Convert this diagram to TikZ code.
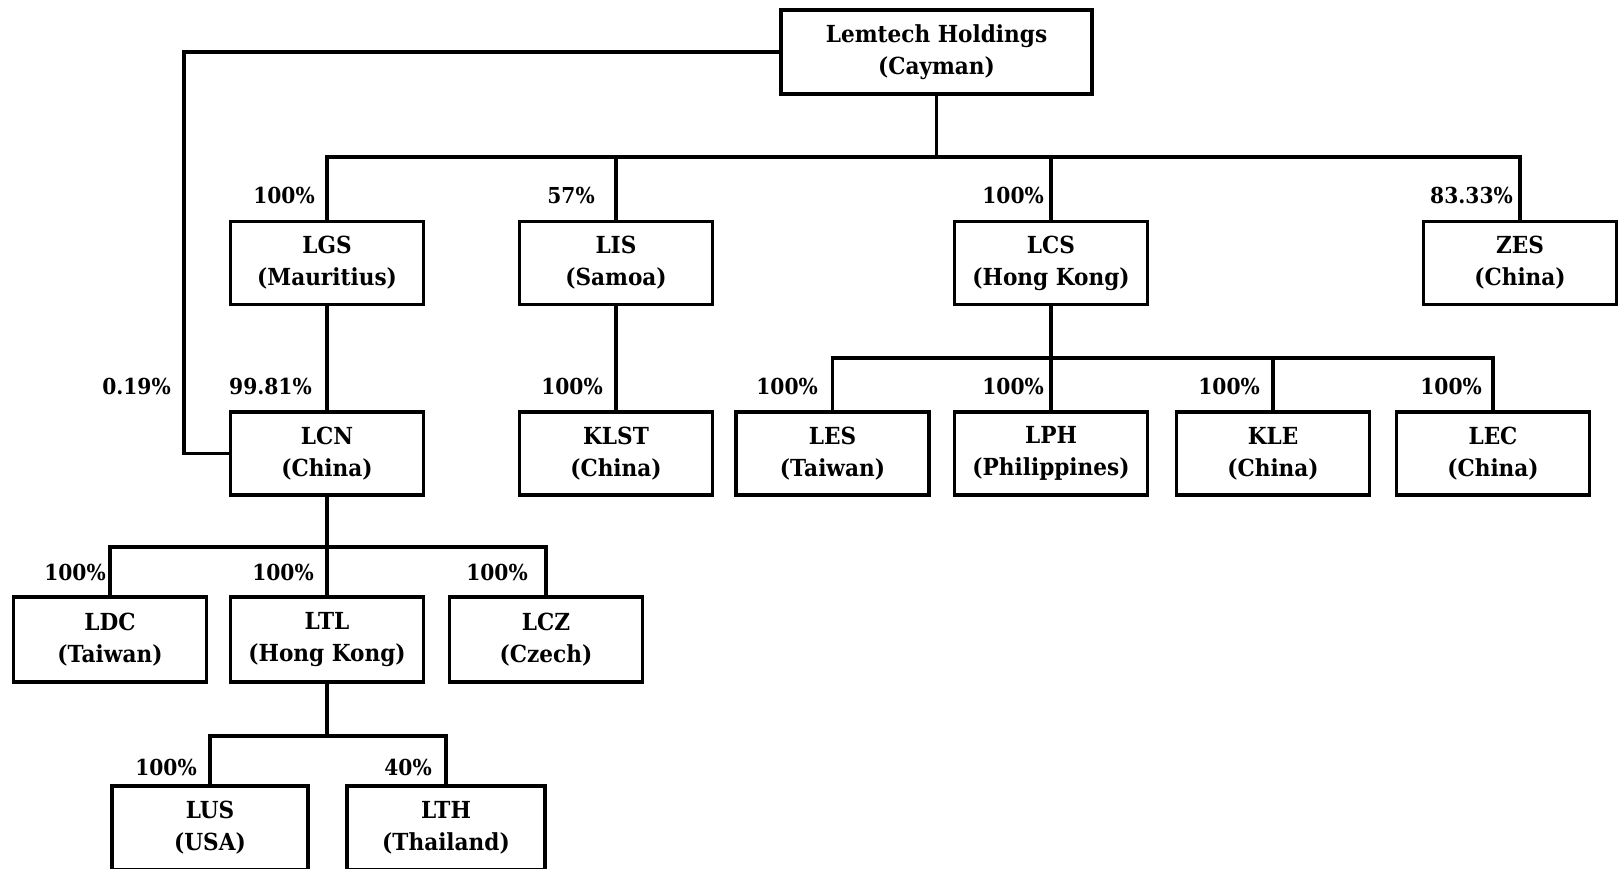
\documentclass[tikz,border=0pt]{standalone}
\usepackage{fontspec}
\setmainfont{DejaVu Serif}[FakeStretch=0.92]
\begin{document}
\begin{tikzpicture}[x=1pt,y=-1pt,
  box/.style={draw, line width=3.8pt, rectangle, minimum width=193pt, minimum height=83pt,
    inner sep=0pt, align=center, font=\fontsize{23.5}{32}\selectfont\bfseries},
  pct/.style={anchor=east, inner sep=0pt, font=\fontsize{22}{26}\selectfont\bfseries},
  conn/.style={line width=3.8pt, line cap=rect, line join=miter}]
\useasboundingbox[fill=white] (0,0) rectangle (1618,868);

% nodes
\node[box, minimum width=311pt, minimum height=84pt] (lem) at (936.5,52) {Lemtech Holdings\\(Cayman)};
\node[box] (lgs) at (327,263) {LGS\\(Mauritius)};
\node[box] (lis) at (616,263) {LIS\\(Samoa)};
\node[box] (lcs) at (1051,263) {LCS\\(Hong Kong)};
\node[box] (zes) at (1520,263) {ZES\\(China)};
\node[box] (lcn) at (327,453.5) {LCN\\(China)};
\node[box] (klst) at (616,453.5) {KLST\\(China)};
\node[box] (les) at (832.5,453.5) {LES\\(Taiwan)};
\node[box] (lph) at (1051,453.5) {LPH\\(Philippines)};
\node[box] (kle) at (1273,453.5) {KLE\\(China)};
\node[box] (lec) at (1493,453.5) {LEC\\(China)};
\node[box, minimum height=85pt] (ldc) at (110,639.5) {LDC\\(Taiwan)};
\node[box, minimum height=85pt] (ltl) at (327,639.5) {LTL\\(Hong Kong)};
\node[box, minimum height=85pt] (lcz) at (546,639.5) {LCZ\\(Czech)};
\node[box, minimum width=196pt, minimum height=84pt] (lus) at (210,828) {LUS\\(USA)};
\node[box, minimum width=198pt, minimum height=84pt] (lth) at (446,828) {LTH\\(Thailand)};

% bus coordinates
\coordinate (bus1) at (0,157);
\coordinate (bus2) at (0,358);
\coordinate (bus3) at (0,547);
\coordinate (bus4) at (0,736);
\coordinate (lft) at (184,52);

% connectors
\draw[conn] (lem.south) -- (lem.south |- bus1);
\draw[conn] (lgs.north) -- (lgs.north |- bus1) -- (zes.north |- bus1) -- (zes.north);
\draw[conn] (lis.north) -- (lis.north |- bus1);
\draw[conn] (lcs.north) -- (lcs.north |- bus1);
\draw[conn] (lem.west) -- (lft) |- (lcn.west);
\draw[conn] (lgs.south) -- (lcn.north);
\draw[conn] (lis.south) -- (klst.north);
\draw[conn] (lcs.south) -- (lcs.south |- bus2);
\draw[conn] (les.north) -- (les.north |- bus2) -- (lec.north |- bus2) -- (lec.north);
\draw[conn] (lph.north) -- (lph.north |- bus2);
\draw[conn] (kle.north) -- (kle.north |- bus2);
\draw[conn] (lcn.south) -- (lcn.south |- bus3);
\draw[conn] (ldc.north) -- (ldc.north |- bus3) -- (lcz.north |- bus3) -- (lcz.north);
\draw[conn] (ltl.north) -- (ltl.north |- bus3);
\draw[conn] (ltl.south) -- (ltl.south |- bus4);
\draw[conn] (lus.north) -- (lus.north |- bus4) -- (lth.north |- bus4) -- (lth.north);

% percentages
\node[pct] (p1) at (315,195) {100\%};
\node[pct] (p2) at (595,195) {57\%};
\node[pct] (p3) at (1044,195) {100\%};
\node[pct] (p4) at (1513,195) {83.33\%};
\node[pct] (p5) at (171,386) {0.19\%};
\node[pct] (p6) at (312,386) {99.81\%};
\node[pct] (p7) at (603,386) {100\%};
\node[pct] (p8) at (818,386) {100\%};
\node[pct] (p9) at (1044,386) {100\%};
\node[pct] (p10) at (1260,386) {100\%};
\node[pct] (p11) at (1482,386) {100\%};
\node[pct] (p12) at (106,572) {100\%};
\node[pct] (p13) at (314,572) {100\%};
\node[pct] (p14) at (528,572) {100\%};
\node[pct] (p15) at (197,767) {100\%};
\node[pct] (p16) at (432,767) {40\%};
\end{tikzpicture}
\end{document}
